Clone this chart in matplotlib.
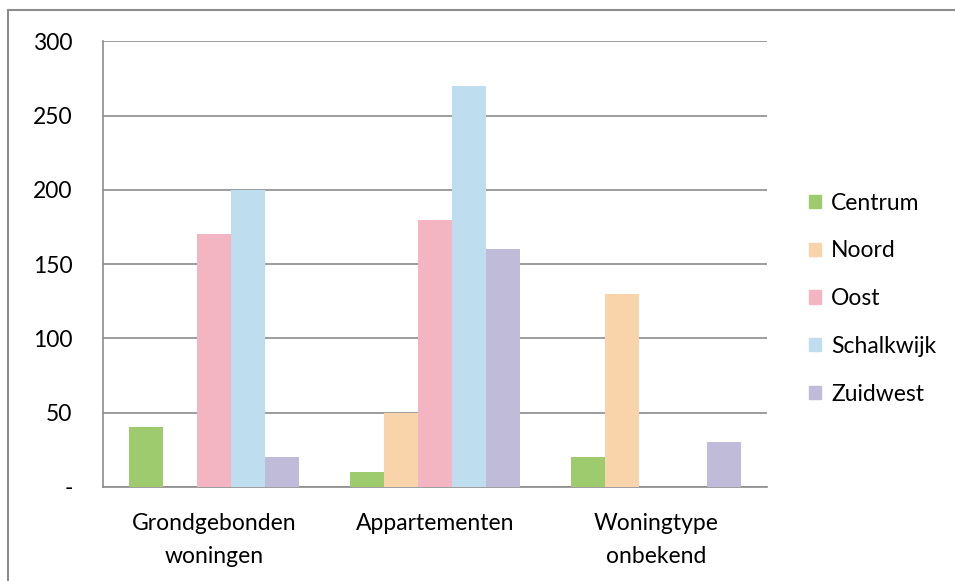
import matplotlib.pyplot as plt
from matplotlib.lines import Line2D
from matplotlib.patches import Patch
import numpy as np

plt.rcParams['font.family'] = ['Lato', 'DejaVu Sans']

categories = ['Grondgebonden\nwoningen', 'Appartementen', 'Woningtype\nonbekend']
districts = ['Centrum', 'Noord', 'Oost', 'Schalkwijk', 'Zuidwest']
centrum = [40, 10, 20]
noord = [0, 50, 130]
oost = [170, 180, 0]
schalkwijk = [200, 270, 0]
zuidwest = [20, 160, 30]
yticks = [0, 50, 100, 150, 200, 250, 300]
ytick_labels = ['-', '50', '100', '150', '200', '250', '300']

colors = ['#9DCB6E', '#F9D3AA', '#F4B5C3', '#BEDDEF', '#C1BBDA']
series = [centrum, noord, oost, schalkwijk, zuidwest]
fs = 16.5

fig = plt.figure(figsize=(9.55, 5.81), dpi=100)
ax = fig.add_axes([0.108, 0.162, 0.695, 0.767])

x = np.arange(len(categories))
w = 0.154
for i, vals in enumerate(series):
    ax.bar(x + (i - 2) * w, vals, width=w, color=colors[i], label=districts[i], zorder=3)

ax.set_xlim(-0.5, 2.5)
ax.set_ylim(0, 300)
ax.set_yticks(yticks)
ax.set_yticklabels(ytick_labels, fontsize=fs)
ax.set_xticks(x)
ax.set_xticklabels(categories, fontsize=fs, linespacing=1.7)
ax.tick_params(axis='y', length=0, pad=22)
ax.tick_params(axis='x', length=0, pad=19)
ax.grid(axis='y', color='#8C8C8C', linewidth=1.2, zorder=0)
for s in ['top', 'right']:
    ax.spines[s].set_visible(False)
ax.spines['left'].set_color('#8C8C8C')
ax.spines['bottom'].set_color('#8C8C8C')
ax.spines['left'].set_linewidth(1.2)
ax.spines['bottom'].set_linewidth(1.2)

handles = [Patch(color=c) for c in colors]
fig.legend(handles, districts, loc='center left', bbox_to_anchor=(0.826, 0.486),
           frameon=False, fontsize=fs, handlelength=0.5, handleheight=0.5,
           handletextpad=0.45, labelspacing=1.17)

# outer frame of the chart
fig.add_artist(Line2D([8 / 955, 1], [1 - 10 / 581, 1 - 10 / 581], color='#8C8C8C', lw=1.5))
fig.add_artist(Line2D([8 / 955, 8 / 955], [0, 1 - 10 / 581], color='#8C8C8C', lw=1.5))

fig.savefig('out.png', dpi=100)
